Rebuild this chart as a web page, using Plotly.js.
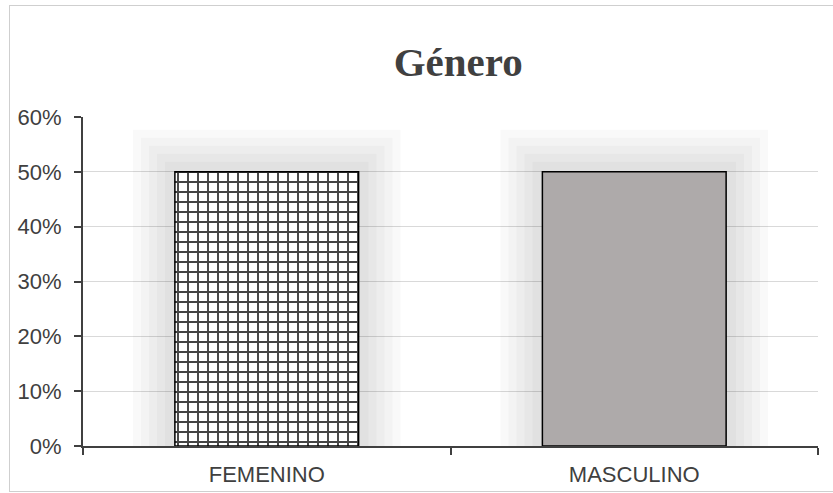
<!DOCTYPE html>
<html>
<head>
<meta charset="utf-8">
<script src="https://cdn.plot.ly/plotly-3.0.1.min.js"></script>
<style>
  html, body { margin: 0; padding: 0; background: #ffffff; }
  #frame { position: absolute; left: 9px; top: 5px; width: 840px; height: 487px; border: 1.5px solid #cfcfcf; box-sizing: border-box; }
  #chart { position: absolute; left: 0; top: 0; width: 833px; height: 493px; }
</style>
</head>
<body>
<div id="frame"></div>
<div id="chart"></div>
<script>
const categories = ["FEMENINO", "MASCULINO"];
const values = [0.5, 0.5];
const tickValues = [0, 0.1, 0.2, 0.3, 0.4, 0.5, 0.6];
const tickLabels = ["0%", "10%", "20%", "30%", "40%", "50%", "60%"];
const chartTitle = "Género";

const glowWidths = [84, 68, 52, 36, 20];
const traces = glowWidths.map(w => ({
  type: "bar",
  x: categories,
  y: values,
  width: 0.5,
  marker: { color: "rgba(0,0,0,0)", line: { width: w, color: "rgba(0,0,0,0.022)" } },
  hoverinfo: "skip",
  showlegend: false,
  cliponaxis: true
}));

traces.push({
  type: "bar",
  x: categories,
  y: values,
  width: 0.5,
  marker: {
    color: ["#ffffff", "#AEAAAA"],
    line: { width: 1.5, color: "#000000" },
    pattern: { shape: ["+", ""], fillmode: "overlay", fgcolor: "#767171", fgopacity: 1, size: 10, solidity: 0.35 }
  },
  showlegend: false
});

const layout = {
  width: 833,
  height: 493,
  margin: { l: 83, r: 15, t: 117, b: 47 },
  paper_bgcolor: "rgba(0,0,0,0)",
  plot_bgcolor: "rgba(0,0,0,0)",
  barmode: "overlay",
  showlegend: false,
  title: {
    text: "<b>" + chartTitle + "</b>",
    font: { family: "Liberation Serif, Times New Roman, serif", size: 41, color: "#404040" },
    x: 0.55, xanchor: "center", y: 0.875, yanchor: "middle"
  },
  xaxis: {
    type: "category",
    tickson: "boundaries",
    ticks: "outside", ticklen: 7, tickwidth: 2, tickcolor: "#404040",
    showline: true, linecolor: "#404040", linewidth: 2,
    showgrid: false,
    tickfont: { family: "Liberation Sans, Arial, sans-serif", size: 22, color: "#404040" },
    ticklabelstandoff: 8
  },
  yaxis: {
    range: [0, 0.6],
    tickvals: tickValues,
    ticktext: tickLabels,
    ticks: "outside", ticklen: 7, tickwidth: 2, tickcolor: "#404040",
    showline: true, linecolor: "#404040", linewidth: 2,
    showgrid: true, gridcolor: "#d9d9d9", gridwidth: 1.3,
    zeroline: false,
    tickfont: { family: "Liberation Sans, Arial, sans-serif", size: 22, color: "#404040" },
    ticklabelstandoff: 8
  }
};

Plotly.newPlot("chart", traces, layout, { displayModeBar: false, staticPlot: true });
</script>
</body>
</html>
